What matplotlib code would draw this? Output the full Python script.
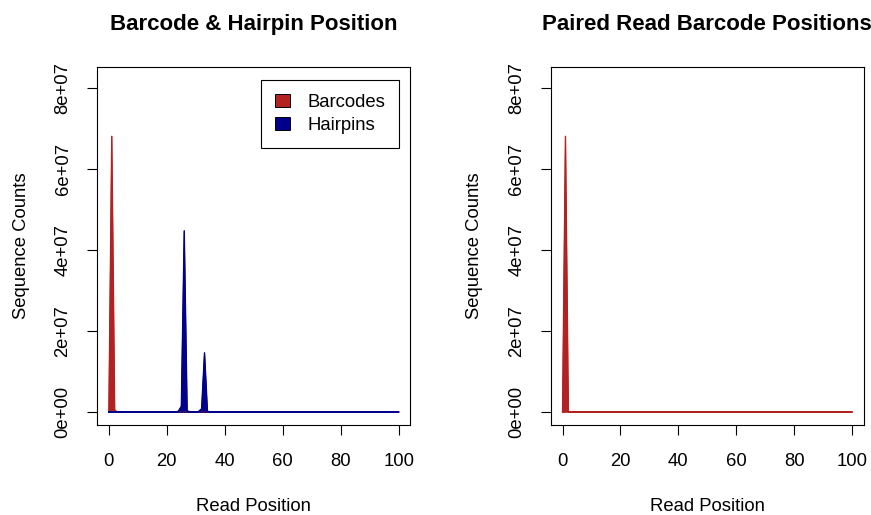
import numpy as np
import matplotlib
matplotlib.use('Agg')
import matplotlib.pyplot as plt
from matplotlib.patches import Patch
from matplotlib.ticker import FuncFormatter

# --- DATA ---
positions = np.arange(0, 101)

# non-zero counts per read position, everything else is 0
barcode_pos = [1, 2]
barcode_counts = [6.8e7, 4.0e5]

hairpin_pos = [24, 25, 26, 27, 31, 32, 33, 34]
hairpin_counts = [2.0e5, 1.4e6, 4.47e7, 3.0e5, 1.5e5, 8.0e5, 1.46e7, 2.0e5]

paired_pos = [1]
paired_counts = [6.8e7]

RED = "#B22222"
BLUE = "#00008B"
FS = 13.3

plt.rcParams['font.family'] = ['Liberation Sans', 'DejaVu Sans']
plt.rcParams['font.size'] = FS


def to_series(pos, counts):
    y = np.zeros(len(positions))
    y[np.array(pos)] = counts
    return y


def draw_profile(ax, y, color):
    # closed outline: profile, then back along the zero line
    xs = np.concatenate([positions, positions[::-1]])
    ys = np.concatenate([y, np.zeros(len(positions))])
    ax.fill(xs, ys, facecolor=color, edgecolor=color, lw=0.6)
    ax.plot(xs, ys, color=color, lw=1.0)


def style_axes(ax, title):
    ax.set_xlim(-4, 104)
    ax.set_ylim(-3.2e6, 8.51e7)
    ax.set_xticks([0, 20, 40, 60, 80, 100])
    ax.set_yticks([0, 2e7, 4e7, 6e7, 8e7])
    ax.yaxis.set_major_formatter(FuncFormatter(lambda v, p: f"{v:.0e}"))
    ax.tick_params(direction='out', length=7.5, width=0.8, labelsize=FS)
    ax.tick_params(axis='x', pad=12.5)
    ax.tick_params(axis='y', pad=11)
    for lbl in ax.get_yticklabels():
        lbl.set_rotation(90)
        lbl.set_va('center')
    for sp in ax.spines.values():
        sp.set_linewidth(0.8)
    ax.set_title(title, fontsize=16, fontweight='bold', pad=27)
    ax.set_xlabel("Read Position", labelpad=20)
    ax.set_ylabel("Sequence Counts", labelpad=18)


barcodes = to_series(barcode_pos, barcode_counts)
hairpins = to_series(hairpin_pos, hairpin_counts)
paired = to_series(paired_pos, paired_counts)

fig = plt.figure(figsize=(8.71, 5.15), dpi=100)
ax1 = fig.add_axes([0.1117, 0.1748, 0.3594, 0.6951])
ax2 = fig.add_axes([0.6326, 0.1748, 0.3590, 0.6951])

draw_profile(ax1, barcodes, RED)
draw_profile(ax1, hairpins, BLUE)
style_axes(ax1, "Barcode & Hairpin Position")

handles = [Patch(facecolor=RED, edgecolor='black', lw=0.7, label="Barcodes"),
           Patch(facecolor=BLUE, edgecolor='black', lw=0.7, label="Hairpins")]
leg = ax1.legend(handles=handles, loc='upper right', bbox_to_anchor=(0.963, 0.963),
                 borderaxespad=0, fancybox=False, framealpha=1, edgecolor='black',
                 fontsize=FS, handlelength=0.78, handleheight=0.65,
                 handletextpad=0.94, borderpad=0.75, labelspacing=0.32)
leg.get_frame().set_linewidth(0.8)

draw_profile(ax2, paired, RED)
style_axes(ax2, "Paired Read Barcode Positions")

plt.savefig("out.png", dpi=100)
plt.close("all")
